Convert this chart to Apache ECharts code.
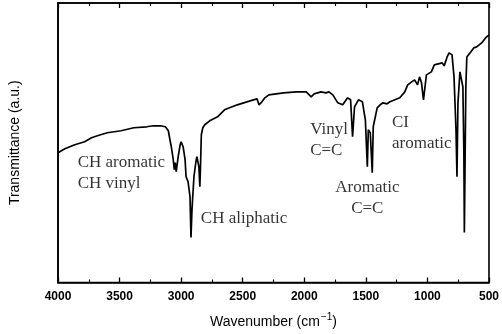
<!DOCTYPE html>
<html>
<head>
<meta charset="utf-8">
<script src="https://cdn.jsdelivr.net/npm/echarts@6/dist/echarts.min.js"></script>
<style>html,body{margin:0;padding:0;background:#fff;}#c{width:502px;height:334px;}</style>
</head>
<body>
<div id="c"></div>
<script>
// Wavenumbers (cm^-1) and transmittance (arbitrary units)
var wavenumbers = [4000,3944,3864,3784,3728,3680,3600,3488,3384,3280,3224,3168,3128,3104,3088,3080,3064,3056,3048,3040,3024,3008,3000,2984,2968,2960,2944,2928,2920,2912,2896,2880,2872,2856,2848,2842,2836,2824,2808,2768,2704,2648,2544,2440,2384,2368,2344,2320,2288,2168,2064,1984,1944,1920,1864,1824,1800,1768,1728,1688,1648,1624,1608,1592,1560,1528,1504,1488,1480,1464,1448,1440,1408,1384,1360,1328,1304,1264,1224,1184,1160,1128,1104,1080,1064,1048,1032,1008,968,944,880,864,840,824,808,800,784,768,760,752,736,720,712,704,700,688,680,648,624,600,560,528,500];
var transmittance = [130,134,138,141,145,147,150,152,155,156,157,157,156,152,141,136,123,113,120,111,126,138,141,136,123,106,101,86,45,73,106,121,126,116,96,120,148,155,158,162,166,173,178,182,184,178,181,185,188,190,191,191,186,189,191,190,191,188,180,178,185,183,146,176,183,181,163,116,153,150,110,156,175,178,180,179,181,183,185,191,198,201,203,198,206,200,183,208,211,218,220,217,226,230,231,228,206,153,106,180,211,213,196,130,50,196,226,231,235,236,240,245,248];
var xTicks = [4000,3500,3000,2500,2000,1500,1000,500];
// Annotation labels: text, wavenumber, transmittance, alignment
var noteTexts = ['CH aromatic\nCH vinyl','CH aliphatic','Vinyl\nC=C','Aromatic\nC=C','CI\naromatic'];
var noteWn = [3840,2840,1952,1488,1288];
var noteT = [110,64,143,85,150];
var noteAlign = ['left','left','left','center','left'];

var chart = echarts.init(document.getElementById('c'));
var spectrum = wavenumbers.map(function(w,i){return [w, transmittance[i]];});
var notes = noteTexts.map(function(t,i){
  return {value:[noteWn[i], noteT[i]], label:{formatter:t, position: noteAlign[i]==='center'?'inside':'right', align:noteAlign[i]}};
});
var lineStyleAx = {show:true, onZero:false, lineStyle:{color:'#000', width:1.6}};
var tickStyle = {show:true, inside:true, length:5, lineStyle:{color:'#000', width:1.3}};
var minorStyle = {show:true, splitNumber:2, length:3, lineStyle:{color:'#000', width:1.1}};
chart.setOption({
  animation:false,
  grid:{left:58, right:7, top:3, bottom:51, show:true, borderColor:'#000', borderWidth:1.6, backgroundColor:'rgba(0,0,0,0)'},
  xAxis:[{
    type:'value', inverse:true, min:500, max:4000, interval:500, position:'bottom',
    axisLine:lineStyleAx, axisTick:tickStyle, minorTick:minorStyle, splitLine:{show:false},
    axisLabel:{margin:8, fontFamily:'Liberation Sans', fontSize:12, fontWeight:'bold', color:'#000',
      formatter:function(v){return xTicks.indexOf(v)>=0?String(v):'';}},
    name:'{a|Wavenumber (cm}{s|−1}{a|)}', nameLocation:'middle', nameGap:30,
    nameTextStyle:{rich:{a:{fontFamily:'Liberation Sans', fontSize:14, color:'#000'}, s:{fontFamily:'Liberation Sans', fontSize:10, color:'#000', padding:[0,0,9,1]}}}
  },{
    type:'value', inverse:true, min:500, max:4000, interval:500, position:'top',
    axisLine:lineStyleAx, axisTick:tickStyle, minorTick:minorStyle, splitLine:{show:false}, axisLabel:{show:false}
  }],
  yAxis:[{
    type:'value', min:0, max:280, position:'left', axisLine:lineStyleAx, axisTick:{show:false}, axisLabel:{show:false}, splitLine:{show:false},
    name:'Transmittance (a.u.)', nameLocation:'middle', nameGap:36,
    nameTextStyle:{fontFamily:'Liberation Sans', fontSize:14, color:'#000'}
  }],
  series:[{
    type:'line', data:spectrum, showSymbol:false, symbol:'none',
    lineStyle:{color:'#000', width:1.7}, silent:true
  },{
    type:'scatter', data:notes, symbolSize:0, silent:true,
    label:{show:true, distance:0, fontFamily:'Liberation Serif', fontSize:17, lineHeight:21, color:'#000'}
  }]
});
</script>
</body>
</html>
